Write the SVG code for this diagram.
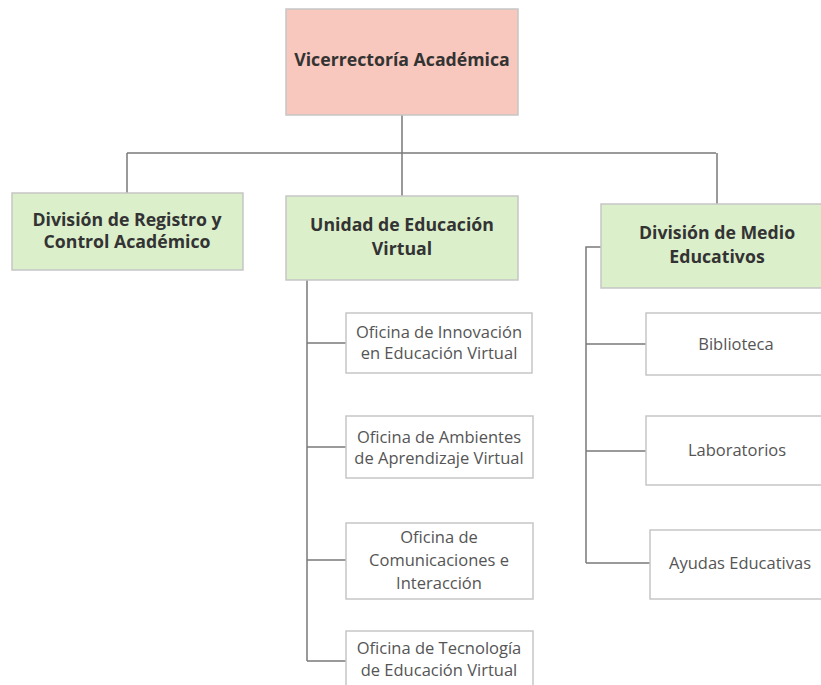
<svg xmlns="http://www.w3.org/2000/svg" width="821" height="685" viewBox="0 0 821 685">
<style>
.box{stroke:#c6c6c6;stroke-width:1.5}
.top{fill:#f8c7bd}
.mid{fill:#dcefcb}
.leaf{fill:#ffffff}
.b{font-family:"Open Sans","Noto Sans",sans-serif;font-weight:700;font-size:17.7px;fill:#333;text-anchor:middle}
.r{font-family:"Open Sans","Noto Sans",sans-serif;font-size:16.5px;fill:#555;text-anchor:middle}
.c{fill:none;stroke:#7a7a7a;stroke-width:1.5}
</style>
<rect width="821" height="685" fill="#ffffff"/>
<g id="connectors" class="c">
<path d="M402 115V153M127 153H716M127 153V193M402 153V196M717 153V204"/>
<path d="M307 280V661M307 343H346M307 447H346M307 560H346M307 661H346"/>
<path d="M601 247H586V563M586 344H646M586 451H646M586 563H650"/>
</g>
<g id="n-vice"><rect class="box top" x="286" y="9" width="232" height="106"/><text class="b" x="402" y="66">Vicerrectoría Académica</text></g>
<g id="n-registro"><rect class="box mid" x="12" y="193" width="231" height="77"/><text class="b" x="127" y="226">División de Registro y</text><text class="b" x="127" y="248">Control Académico</text></g>
<g id="n-unidad"><rect class="box mid" x="286" y="196" width="232" height="84"/><text class="b" x="402" y="231">Unidad de Educación</text><text class="b" x="402" y="255">Virtual</text></g>
<g id="n-medio"><rect class="box mid" x="601" y="204" width="232" height="84"/><text class="b" x="717" y="239">División de Medio</text><text class="b" x="717" y="263">Educativos</text></g>
<g id="n-innovacion"><rect class="box leaf" x="346" y="313" width="186" height="60"/><text class="r" x="439" y="338">Oficina de Innovación</text><text class="r" x="439" y="359">en Educación Virtual</text></g>
<g id="n-ambientes"><rect class="box leaf" x="346" y="416" width="187" height="62"/><text class="r" x="439" y="443">Oficina de Ambientes</text><text class="r" x="439" y="464">de Aprendizaje Virtual</text></g>
<g id="n-comunicaciones"><rect class="box leaf" x="346" y="523" width="187" height="76"/><text class="r" x="439" y="543">Oficina de</text><text class="r" x="439" y="566">Comunicaciones e</text><text class="r" x="439" y="589">Interacción</text></g>
<g id="n-tecnologia"><rect class="box leaf" x="346" y="631" width="187" height="70"/><text class="r" x="439" y="654">Oficina de Tecnología</text><text class="r" x="439" y="676">de Educación Virtual</text></g>
<g id="n-biblioteca"><rect class="box leaf" x="646" y="313" width="190" height="62"/><text class="r" x="736" y="350">Biblioteca</text></g>
<g id="n-laboratorios"><rect class="box leaf" x="646" y="416" width="190" height="69"/><text class="r" x="737" y="456">Laboratorios</text></g>
<g id="n-ayudas"><rect class="box leaf" x="650" y="530" width="190" height="69"/><text class="r" x="740" y="569">Ayudas Educativas</text></g>
</svg>
